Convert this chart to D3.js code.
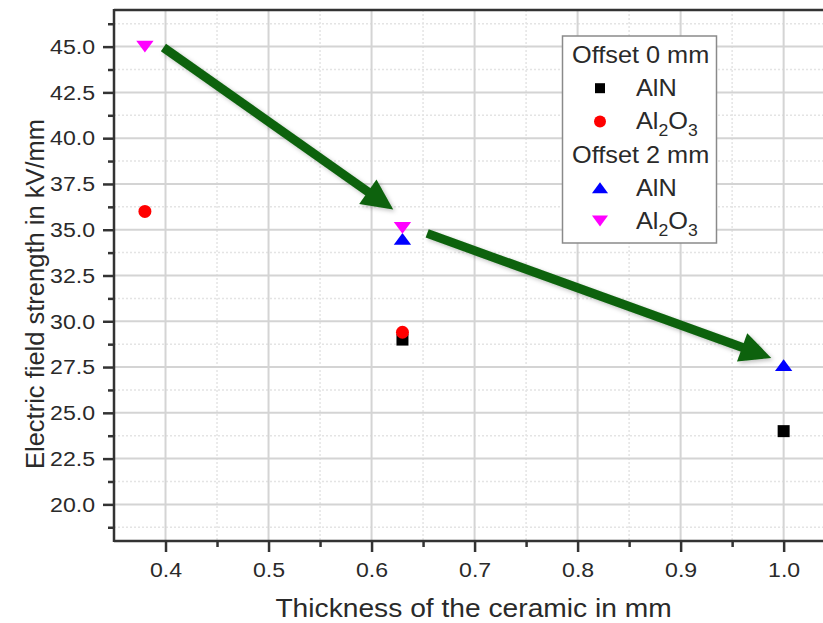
<!DOCTYPE html>
<html>
<head>
<meta charset="utf-8">
<script src="https://cdn.jsdelivr.net/npm/d3@7"></script>
<style>
  html, body { margin: 0; padding: 0; background: #fff; }
  svg { display: block; font-family: "Liberation Sans", Arial, sans-serif; }
</style>
</head>
<body>
<svg id="chart" width="823" height="623"></svg>
<script>
// ---------------- data ----------------
const off0AlN_x = [0.63, 1.0];
const off0AlN_y = [29.0, 24.0];
const off0Al2O3_x = [0.38, 0.63];
const off0Al2O3_y = [36.0, 29.4];
const off2AlN_x = [0.63, 1.0];
const off2AlN_y = [34.5, 27.6];
const off2Al2O3_x = [0.38, 0.63];
const off2Al2O3_y = [45.0, 35.1];

const xTicks = [0.4, 0.5, 0.6, 0.7, 0.8, 0.9, 1.0];
const xTickLabels = ["0.4", "0.5", "0.6", "0.7", "0.8", "0.9", "1.0"];
const xMinor = [0.45, 0.55, 0.65, 0.75, 0.85, 0.95];
const yTicks = [20, 22.5, 25, 27.5, 30, 32.5, 35, 37.5, 40, 42.5, 45];
const yTickLabels = ["20.0", "22.5", "25.0", "27.5", "30.0", "32.5", "35.0", "37.5", "40.0", "42.5", "45.0"];
const yMinor = [18.75, 21.25, 23.75, 26.25, 28.75, 31.25, 33.75, 36.25, 38.75, 41.25, 43.75, 46.25];

// annotation arrows in data units
const arrowStarts_x = [0.398, 0.654];
const arrowStarts_y = [44.95, 34.8];
const arrowEnds_x = [0.621, 0.988];
const arrowEnds_y = [36.1, 28.0];

const xTitle = "Thickness of the ceramic in mm";
const yTitle = "Electric field strength in kV/mm";

// ---------------- layout ----------------
const svg = d3.select("#chart");
const L = 114, R = 830, T = 10, B = 541;
const SX = 1.1; // horizontal text stretch
const x = d3.scaleLinear().domain([0.35, 1.045]).range([L, R]);
const y = d3.scaleLinear().domain([18, 47]).range([B, T]);

svg.append("rect").attr("width", 823).attr("height", 623).attr("fill", "#fff");

const defs = svg.append("defs");
const f = defs.append("filter").attr("id", "shadow").attr("x", "-20%").attr("y", "-20%").attr("width", "140%").attr("height", "140%");
f.append("feDropShadow").attr("dx", 2).attr("dy", 2).attr("stdDeviation", 2).attr("flood-color", "#000").attr("flood-opacity", 0.25);

// grid
const grid = svg.append("g");
grid.selectAll(".vmin").data(xMinor).join("line")
  .attr("x1", d => x(d)).attr("x2", d => x(d)).attr("y1", T).attr("y2", B)
  .attr("stroke", "#e4e4e4").attr("stroke-width", 1.5).attr("stroke-dasharray", "2,2");
grid.selectAll(".hmin").data(yMinor).join("line")
  .attr("y1", d => y(d)).attr("y2", d => y(d)).attr("x1", L).attr("x2", R)
  .attr("stroke", "#e4e4e4").attr("stroke-width", 1.5).attr("stroke-dasharray", "2,2");
grid.selectAll(".vmaj").data(xTicks).join("line")
  .attr("x1", d => x(d)).attr("x2", d => x(d)).attr("y1", T).attr("y2", B)
  .attr("stroke", "#d4d4d4").attr("stroke-width", 2);
grid.selectAll(".hmaj").data(yTicks).join("line")
  .attr("y1", d => y(d)).attr("y2", d => y(d)).attr("x1", L).attr("x2", R)
  .attr("stroke", "#d4d4d4").attr("stroke-width", 2);

// axes
const axisColor = "#333";
const xAxis = svg.append("g").attr("transform", `translate(0,${B})`)
  .call(d3.axisBottom(x).tickValues(xTicks).tickFormat((d, i) => xTickLabels[i]).tickSize(11).tickPadding(10));
const xAxisMinor = svg.append("g").attr("transform", `translate(0,${B})`)
  .call(d3.axisBottom(x).tickValues(xMinor).tickFormat("").tickSize(6));
const yAxis = svg.append("g").attr("transform", `translate(${L},0)`)
  .call(d3.axisLeft(y).tickValues(yTicks).tickFormat((d, i) => yTickLabels[i]).tickSize(11).tickPadding(8));
const yAxisMinor = svg.append("g").attr("transform", `translate(${L},0)`)
  .call(d3.axisLeft(y).tickValues(yMinor).tickFormat("").tickSize(6));
[xAxis, xAxisMinor, yAxis, yAxisMinor].forEach(g => {
  g.select(".domain").remove();
  g.selectAll(".tick line").attr("stroke", axisColor).attr("stroke-width", 2.5);
  g.selectAll(".tick text").attr("fill", "#2a2a2a").attr("font-size", 21).attr("font-family", "Liberation Sans, Arial, sans-serif");
});
// stretch tick labels horizontally around their anchor
xAxis.selectAll(".tick text").attr("transform", `scale(${SX},1)`);
yAxis.selectAll(".tick text").each(function () {
  const t = d3.select(this);
  const xx = +t.attr("x");
  t.attr("x", xx / SX).attr("transform", `scale(${SX},1)`);
});

// frame lines
svg.append("line").attr("x1", L).attr("x2", 823).attr("y1", T).attr("y2", T).attr("stroke", axisColor).attr("stroke-width", 2.5);
svg.append("line").attr("x1", L).attr("x2", 823).attr("y1", B).attr("y2", B).attr("stroke", axisColor).attr("stroke-width", 2.5);
svg.append("line").attr("x1", L).attr("x2", L).attr("y1", T - 1).attr("y2", B + 1).attr("stroke", axisColor).attr("stroke-width", 2.5);

// titles
svg.append("text").attr("transform", `translate(${(x(0.4) + x(1.0)) / 2 - 1},617) scale(1.085,1)`)
  .attr("text-anchor", "middle").attr("font-size", 26).attr("fill", "#2a2a2a").text(xTitle);
svg.append("text").attr("transform", `translate(44,294) rotate(-90)`)
  .attr("text-anchor", "middle").attr("font-size", 25.5).attr("fill", "#2a2a2a").text(yTitle);

// marker shapes
function markerPath(type, s) {
  const h = s / 2;
  if (type === "square") return `M${-h},${-h}H${h}V${h}H${-h}Z`;
  if (type === "up") { const w = s * 0.62, hh = s * 0.42; return `M0,${-hh}L${w},${hh}L${-w},${hh}Z`; }
  if (type === "down") { const w = s * 0.62, hh = s * 0.42; return `M0,${hh}L${w},${-hh}L${-w},${-hh}Z`; }
  return null;
}
function drawSeries(xs, ys, type, color, size) {
  const pts = xs.map((v, i) => [v, ys[i]]);
  const g = svg.append("g");
  if (type === "circle") {
    g.selectAll("circle").data(pts).join("circle")
      .attr("cx", d => x(d[0])).attr("cy", d => y(d[1])).attr("r", size / 2).attr("fill", color);
  } else {
    g.selectAll("path").data(pts).join("path")
      .attr("transform", d => `translate(${x(d[0])},${y(d[1])})`)
      .attr("d", markerPath(type, size)).attr("fill", color);
  }
}
drawSeries(off0AlN_x, off0AlN_y, "square", "#000", 12);
drawSeries(off0Al2O3_x, off0Al2O3_y, "circle", "#ff0000", 13);
drawSeries(off2AlN_x, off2AlN_y, "up", "#0000ff", 14);
drawSeries(off2Al2O3_x, off2Al2O3_y, "down", "#ff00ff", 14);

// arrows
const arrowColor = "#0b620b";
const ag = svg.append("g").attr("filter", "url(#shadow)");
arrowStarts_x.forEach((sx, i) => {
  const x0 = x(sx), y0 = y(arrowStarts_y[i]), x1 = x(arrowEnds_x[i]), y1 = y(arrowEnds_y[i]);
  const ang = Math.atan2(y1 - y0, x1 - x0);
  const headLen = 31, headW = 15;
  const bx = x1 - headLen * Math.cos(ang), by = y1 - headLen * Math.sin(ang);
  ag.append("line").attr("x1", x0).attr("y1", y0).attr("x2", bx + 2 * Math.cos(ang)).attr("y2", by + 2 * Math.sin(ang))
    .attr("stroke", arrowColor).attr("stroke-width", 9);
  const px = -Math.sin(ang), py = Math.cos(ang);
  ag.append("path")
    .attr("d", `M${x1},${y1}L${bx + headW * px},${by + headW * py}L${bx - headW * px},${by - headW * py}Z`)
    .attr("fill", arrowColor);
});

// legend
const lg = svg.append("g");
lg.append("rect").attr("x", 562.5).attr("y", 36).attr("width", 154).attr("height", 207)
  .attr("fill", "#fff").attr("stroke", "#8a8a8a").attr("stroke-width", 1.5);
const legendRows = [
  { kind: "header", text: "Offset 0 mm" },
  { kind: "item", type: "square", color: "#000", size: 10, label: "AlN" },
  { kind: "item", type: "circle", color: "#ff0000", size: 12, label: "Al2O3" },
  { kind: "header", text: "Offset 2 mm" },
  { kind: "item", type: "up", color: "#0000ff", size: 13, label: "AlN" },
  { kind: "item", type: "down", color: "#ff00ff", size: 13, label: "Al2O3" }
];
legendRows.forEach((r, i) => {
  const cy = 55 + i * 33.2;
  if (r.kind === "header") {
    lg.append("text").attr("transform", `translate(572,${cy + 8}) scale(${SX},1)`)
      .attr("font-size", 23).attr("fill", "#2a2a2a").text(r.text);
  } else {
    if (r.type === "circle") lg.append("circle").attr("cx", 600).attr("cy", cy).attr("r", r.size / 2).attr("fill", r.color);
    else lg.append("path").attr("transform", `translate(600,${cy})`).attr("d", markerPath(r.type, r.size)).attr("fill", r.color);
    const t = lg.append("text").attr("transform", `translate(636,${cy + 8}) scale(${SX},1)`)
      .attr("font-size", 23).attr("fill", "#2a2a2a");
    if (r.label === "Al2O3") {
      t.append("tspan").text("Al");
      t.append("tspan").attr("font-size", 16).attr("dy", 7).text("2");
      t.append("tspan").attr("dy", -7).text("O");
      t.append("tspan").attr("font-size", 16).attr("dy", 7).text("3");
    } else {
      t.text(r.label);
    }
  }
});
</script>
</body>
</html>
